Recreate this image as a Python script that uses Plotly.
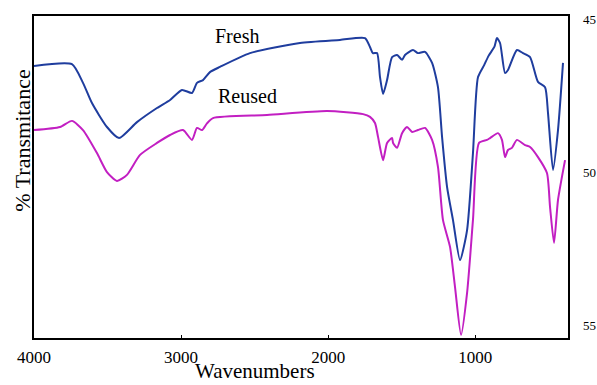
import plotly.graph_objects as go

# Wavenumbers (cm^-1) and transmittance read on the right-hand scale (45 top .. 55 bottom)
fresh_wn = [4000, 3742, 3667, 3606, 3504, 3422, 3300, 3164, 3075, 2994, 2926, 2892, 2851, 2804,
            2736, 2532, 2192, 1920, 1750, 1716, 1696, 1668, 1648, 1627, 1600, 1566, 1532, 1498,
            1478, 1424, 1390, 1342, 1294, 1254, 1226, 1192, 1152, 1104, 1056, 1016, 982, 940,
            910, 870, 853, 832, 798, 778, 717, 676, 628, 574, 526, 506, 472, 438, 404]
fresh_t = [46.53, 46.47, 47.08, 47.74, 48.52, 48.88, 48.36, 47.90, 47.64, 47.31, 47.41, 47.08, 46.99, 46.73,
           46.56, 46.11, 45.78, 45.68, 45.62, 45.91, 46.11, 46.11, 46.89, 47.44, 46.99, 46.24, 46.17, 46.33,
           46.17, 46.01, 46.11, 46.07, 46.43, 47.22, 48.85, 50.48, 51.55, 52.86, 51.88, 49.37, 46.90, 46.50,
           46.20, 45.90, 45.62, 45.78, 46.76, 46.66, 46.01, 46.11, 46.24, 47.05, 47.22, 48.06, 49.92, 48.62, 46.43]

reused_wn = [4000, 3823, 3742, 3667, 3572, 3504, 3436, 3368, 3279, 3164, 3075, 2987, 2926, 2892,
             2858, 2824, 2783, 2416, 2008, 1763, 1716, 1682, 1661, 1627, 1600, 1566, 1559, 1532,
             1498, 1464, 1430, 1390, 1342, 1294, 1254, 1220, 1172, 1138, 1097, 1056, 1016, 975,
             921, 900, 846, 819, 798, 778, 751, 717, 662, 628, 574, 513, 492, 465, 438, 390]
reused_t = [48.62, 48.52, 48.32, 48.62, 49.37, 49.99, 50.28, 50.08, 49.43, 49.04, 48.78, 48.62, 48.94, 48.55,
            48.62, 48.40, 48.23, 48.13, 48.00, 48.10, 48.19, 48.39, 48.85, 49.60, 49.04, 48.88, 49.04, 49.20,
            48.72, 48.52, 48.68, 48.62, 48.55, 48.94, 49.82, 51.55, 52.43, 53.74, 55.30, 53.93, 51.55, 49.04,
            48.94, 48.88, 48.72, 48.94, 49.50, 49.27, 49.20, 48.94, 49.11, 49.17, 49.50, 50.02, 51.13, 52.30, 50.90, 49.60]

x_ticks = [4000, 3000, 2000, 1000]
y_ticks = [45, 50, 55]
series_labels = ["Fresh", "Reused"]

SERIF = "Liberation Serif"
BLUE = "#1f3d9e"
MAGENTA = "#c21fc2"

fig = go.Figure()
fig.add_trace(go.Scatter(x=fresh_wn, y=fresh_t, mode="lines", line=dict(color=BLUE, width=2, shape="spline", smoothing=0.6),
                         name=series_labels[0], showlegend=False))
fig.add_trace(go.Scatter(x=reused_wn, y=reused_t, mode="lines", line=dict(color=MAGENTA, width=2, shape="spline", smoothing=0.6),
                         name=series_labels[1], showlegend=False))
# invisible trace so the right-hand scale is drawn
fig.add_trace(go.Scatter(x=[fresh_wn[0]], y=[fresh_t[0]], yaxis="y2", mode="markers", opacity=0,
                         hoverinfo="skip", showlegend=False))

yr = [55.4, 44.9]
fig.update_layout(
    width=597, height=385,
    margin=dict(l=34, r=29, t=16, b=47),
    paper_bgcolor="white", plot_bgcolor="white",
    font=dict(family=SERIF, color="black"),
    xaxis=dict(range=[4000, 370], tickvals=x_ticks, ticktext=[str(v) for v in x_ticks], automargin=False,
               showgrid=False, zeroline=False, showline=True, linecolor="black", linewidth=2, mirror=True,
               ticks="inside", ticklen=3, tickcolor="black", tickfont=dict(family=SERIF, size=17, color="black"),
               ticklabelstandoff=3),
    yaxis=dict(range=yr, showticklabels=False, ticks="", showgrid=False, zeroline=False, automargin=False,
               showline=True, linecolor="black", linewidth=2, mirror=True),
    yaxis2=dict(range=yr, overlaying="y", side="right", tickvals=y_ticks, ticks="", showgrid=False,
                zeroline=False, showline=False, automargin=False,
                tickfont=dict(family=SERIF, size=13, color="black"), ticklabelstandoff=14),
    annotations=[
        dict(text=series_labels[0], x=2783, y=45.55, xref="x", yref="y", xanchor="left", yanchor="middle",
             showarrow=False, font=dict(family=SERIF, size=20, color="black")),
        dict(text=series_labels[1], x=2763, y=47.51, xref="x", yref="y", xanchor="left", yanchor="middle",
             showarrow=False, font=dict(family=SERIF, size=20, color="black")),
        dict(text="% Transmitance", x=-0.021, y=0.612, xref="paper", yref="paper", textangle=-90,
             xanchor="center", yanchor="middle", showarrow=False, font=dict(family=SERIF, size=22, color="black")),
        dict(text="Wavenumbers", x=0.414, y=-0.102, xref="paper", yref="paper",
             xanchor="center", yanchor="middle", showarrow=False, font=dict(family=SERIF, size=21, color="black")),
    ],
)

fig.write_html("out.html")
